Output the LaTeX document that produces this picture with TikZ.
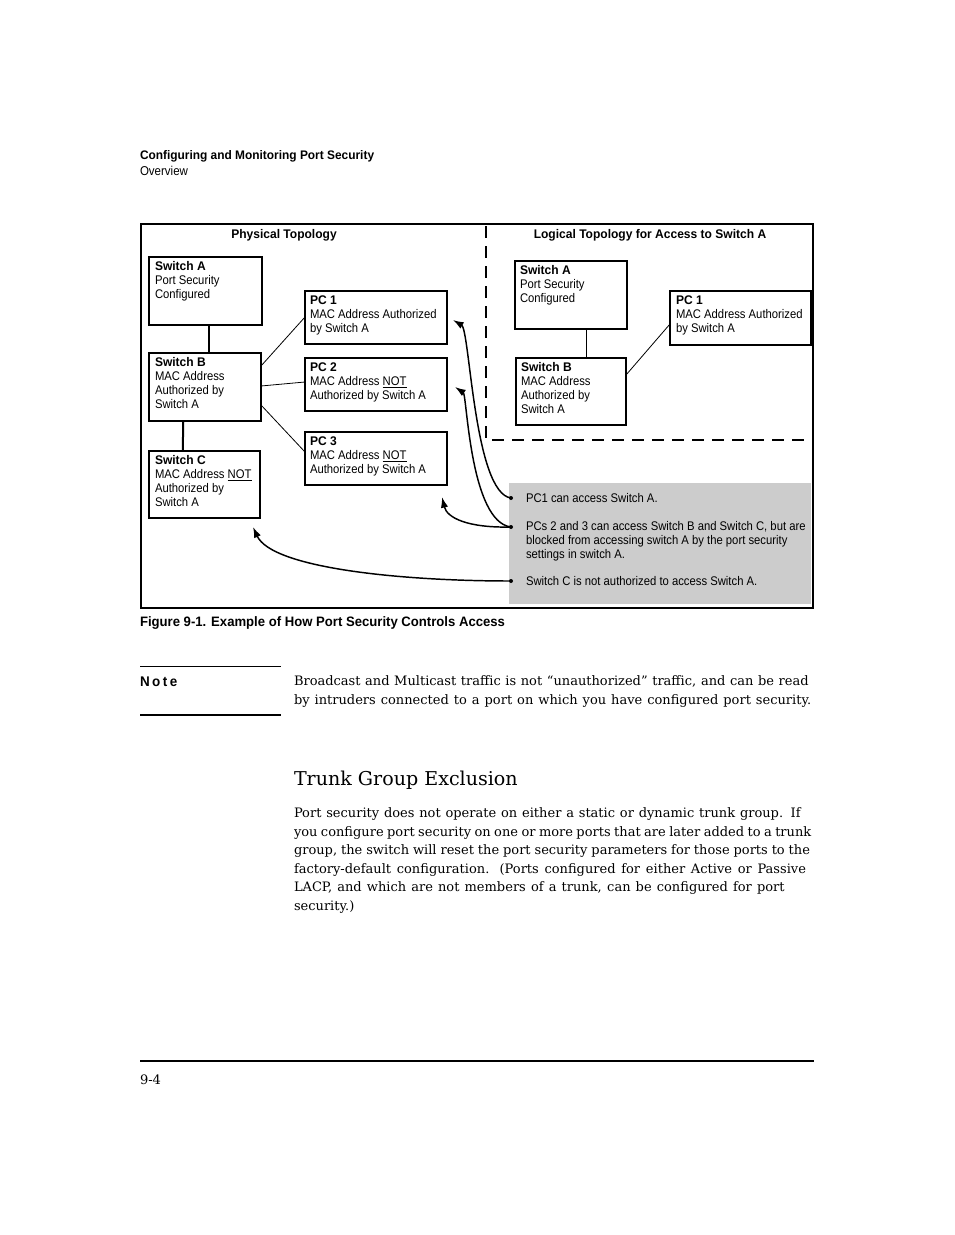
\documentclass[tikz,border=0pt]{standalone}
\usepackage{fontspec}
\setmainfont{DejaVu Serif}
\newfontfamily\cond[FakeStretch=0.9, BoldFeatures={FakeStretch=0.96}]{Liberation Sans}
\usetikzlibrary{arrows.meta,calc}
\tikzset{
  every node/.style={inner sep=0pt, outer sep=0pt},
  bx/.style 2 args={draw, line width=1.5pt, minimum width=#1*0.75pt, minimum height=#2*0.75pt, anchor=north west},
  btxt/.style={anchor=north west, align=left, font=\cond\fontsize{9.4}{10.5}\selectfont},
  stxt/.style={anchor=base west, font=\cond\fontsize{9.4}{10.5}\selectfont},
  ttl/.style={anchor=base, font=\cond\bfseries\fontsize{9.4}{10.5}\selectfont},
  body/.style={anchor=base west, font=\fontsize{9.75}{14}\selectfont},
  thickc/.style={line width=1.5pt},
  thinc/.style={line width=0.6pt},
  arr/.style={line width=1.1pt, -{Latex[length=8pt,width=5.5pt]}},
  dsh/.style={line width=1.5pt, dash pattern=on 9pt off 6pt},
}
\begin{document}
\begin{tikzpicture}[x=0.75pt,y=-0.75pt]
\useasboundingbox (0,0) rectangle (954,1235);

% header
\node[anchor=base west, font=\cond\bfseries\fontsize{9.3}{11}\selectfont] (hdr) at (140,159.5) {Configuring and Monitoring Port Security};
\node[anchor=base west, font=\cond\fontsize{9.6}{11}\selectfont] (hdr2) at (140,175) {Overview};

% frame
\draw[line width=1.5pt] (141,224) rectangle (813,608);
\draw[dsh] (486,226) -- (486,440) -- (813,440);

\node[ttl] (tphys) at (284,238.5) {Physical Topology};
\node[ttl] (tlog) at (650,238.5) {Logical Topology for Access to Switch A};

% physical boxes
\node[bx={113}{68}] (swA) at (149,257) {};
\node[btxt] (swAt) at ($(swA.north west)+(6,4)$) {\textbf{Switch A}\\Port Security\\Configured};
\node[bx={112}{68}] (swB) at (149,353) {};
\node[btxt] (swBt) at ($(swB.north west)+(6,4.5)$) {\textbf{Switch B}\\MAC Address\\Authorized by\\Switch A};
\node[bx={111}{67}] (swC) at (149,451) {};
\node[btxt] (swCt) at ($(swC.north west)+(6,4.5)$) {\textbf{Switch C}\\MAC Address \underline{NOT}\\Authorized by\\Switch A};
\node[bx={142}{53}] (pc1) at (305,291) {};
\node[btxt] (pc1t) at ($(pc1.north west)+(5,4.5)$) {\textbf{PC 1}\\MAC Address Authorized\\by Switch A};
\node[bx={142}{53}] (pc2) at (305,358) {};
\node[btxt] (pc2t) at ($(pc2.north west)+(5,4.5)$) {\textbf{PC 2}\\MAC Address \underline{NOT}\\Authorized by Switch A};
\node[bx={142}{53}] (pc3) at (305,432) {};
\node[btxt] (pc3t) at ($(pc3.north west)+(5,4.5)$) {\textbf{PC 3}\\MAC Address \underline{NOT}\\Authorized by Switch A};

\draw[thickc] ([xshift=2.5pt]swA.south) -- ([xshift=2.5pt]swA.south |- swB.north);
\draw[thickc] ([xshift=-16.3pt]swB.south) -- ([xshift=-16.3pt]swC.north);
\draw[thinc] ([yshift=-9.75pt]swB.north east) -- ([yshift=-19.5pt]pc1.north west);
\draw[thinc] ([yshift=-24.75pt]swB.north east) -- ([yshift=-18pt]pc2.north west);
\draw[thinc] ([yshift=-39pt]swB.north east) -- ([yshift=-15pt]pc3.north west);

% logical boxes
\node[bx={112}{68}] (lswA) at (515,261) {};
\node[btxt] (lswAt) at ($(lswA.north west)+(5,4.5)$) {\textbf{Switch A}\\Port Security\\Configured};
\node[bx={110}{67}] (lswB) at (516,358) {};
\node[btxt] (lswBt) at ($(lswB.north west)+(5,4.5)$) {\textbf{Switch B}\\MAC Address\\Authorized by\\Switch A};
\node[bx={141}{54}] (lpc1) at (670,291) {};
\node[btxt] (lpc1t) at ($(lpc1.north west)+(6,4.5)$) {\textbf{PC 1}\\MAC Address Authorized\\by Switch A};
\draw[thinc] ([xshift=11.25pt]lswA.south) -- ([xshift=11.25pt]lswA.south |- lswB.north);
\draw[thinc] ([yshift=-12.75pt]lswB.north east) -- ([yshift=-24.75pt]lpc1.north west);

% gray legend
\node[fill=black!20, minimum width=302*0.75pt, minimum height=121*0.75pt, anchor=north west] (legend) at (509,483) {};
\coordinate (b1) at (511,498);
\coordinate (b2) at (511,527);
\coordinate (b3) at (511,581);
\fill (b1) circle (1.5pt);
\fill (b2) circle (1.5pt);
\fill (b3) circle (1.5pt);
\node[stxt] (l1) at (526,502.5) {PC1 can access Switch A.};
\node[btxt] (l2) at (526,521.5) {PCs 2 and 3 can access Switch B and Switch C, but are\\blocked from accessing switch A by the port security\\settings in switch A.};
\node[stxt] (l3) at (526,585.5) {Switch C is not authorized to access Switch A.};

% arrows
\draw[arr] (b1) .. controls (474,493) and (470,330) .. ($(pc1.east)+(6,2.5)$);
\draw[arr] (b2) .. controls (470,522) and (467,395) .. ($(pc2.east)+(8,2.5)$);
\draw[arr] (b2) .. controls (468,528) and (447,518) .. ($(pc3.south east)+(-5,12)$);
\draw[arr] (b3) .. controls (400,581) and (272,568) .. ($(swC.south east)+(-7,9)$);

% caption
\node[anchor=base west, font=\cond\bfseries\fontsize{10.25}{12}\selectfont] (cap) at (140,626.5) {Figure 9-1. Example of How Port Security Controls Access};

% note
\draw[line width=0.8pt] (140,666.5) -- (281,666.5);
\draw[line width=1.6pt] (140,715) -- (281,715);
\node[anchor=base west, font=\cond\bfseries\fontsize{10.5}{12}\selectfont\addfontfeature{LetterSpace=18}] (note) at (140,686) {Note};
\node[body] (n1) at (294,685.5) {\makebox[386pt][s]{Broadcast and Multicast traffic is not “unauthorized” traffic, and can be read}};
\node[body] (n2) at (294,704.5) {\makebox[388pt][s]{by intruders connected to a port on which you have configured port security.}};

% section
\node[anchor=base west, font=\fontsize{14.3}{17}\selectfont] (sec) at (294,785) {Trunk Group Exclusion};
\node[body] (p1) at (294,817.5) {\makebox[380pt][s]{Port security does not operate on either a static or dynamic trunk group. If}};
\node[body] (p2) at (294,836.1) {\makebox[388pt][s]{you configure port security on one or more ports that are later added to a trunk}};
\node[body] (p3) at (294,854.7) {\makebox[387pt][s]{group, the switch will reset the port security parameters for those ports to the}};
\node[body] (p4) at (294,873.3) {\makebox[384pt][s]{factory-default configuration. (Ports configured for either Active or Passive}};
\node[body] (p5) at (294,891.9) {\makebox[368pt][s]{LACP, and which are not members of a trunk, can be configured for port}};
\node[body] (p6) at (294,910.5) {security.)};

% footer
\draw[line width=0.8pt] (140,1061) -- (814,1061);
\node[body] (pg) at (140,1084) {9-4};
\end{tikzpicture}
\end{document}
